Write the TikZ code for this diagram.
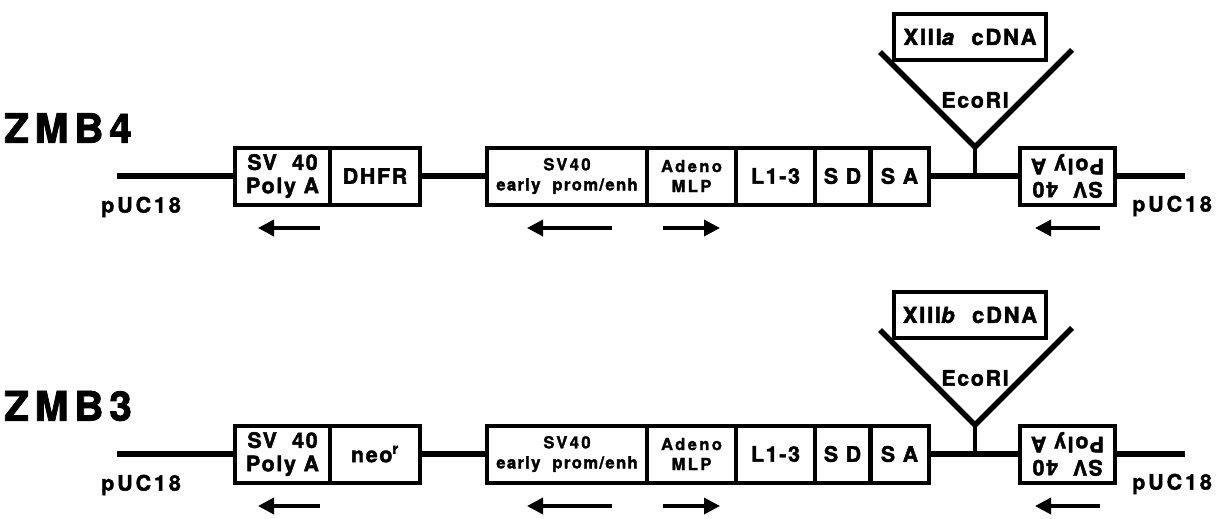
\documentclass[tikz,border=0pt]{standalone}
\usepackage{fontspec}
\setmainfont{TeX Gyre Heros}
\newfontfamily\hvA{TeX Gyre Heros}[LetterSpace=8,BoldFeatures={FakeBold=2},BoldItalicFeatures={FakeBold=2}]
\newfontfamily\hvB{TeX Gyre Heros}[LetterSpace=14,BoldFeatures={FakeBold=2}]
\newfontfamily\hvC{TeX Gyre Heros}[LetterSpace=14,BoldFeatures={FakeBold=1.5}]
\usetikzlibrary{arrows.meta}
\begin{document}
\begin{tikzpicture}[x=0.75pt,y=-0.75pt,
  box/.style={draw,line width=3pt,inner sep=0pt,outer sep=0pt,minimum height=42.75pt,align=center,font=\hvA\bfseries\fontsize{16}{17.5}\selectfont},
  sbox/.style={box,font=\hvC\bfseries\fontsize{12.5}{15}\selectfont},
  cbox/.style={box,minimum width=114pt,minimum height=34.5pt,font=\hvA\bfseries\fontsize{16.5}{18}\selectfont},
  dna/.style={line width=3.8pt},
  tri/.style={line width=4.2pt,line join=miter},
  stem/.style={line width=2.6pt},
  arr/.style={line width=2.6pt,-{Triangle[length=12pt,width=12pt]}},
  lbl/.style={font=\hvB\bfseries\fontsize{16}{18}\selectfont,inner sep=0pt},
  eco/.style={font=\hvA\bfseries\fontsize{16}{18}\selectfont,inner sep=0pt},
  ttl/.style={font=\hvB\bfseries\fontsize{30.5}{32}\selectfont,inner sep=0pt},
]
\useasboundingbox (0,0) rectangle (1223,518);
\foreach \r/\dy/\name/\gene/\cd in {1/0/ZMB4/DHFR/a,2/278/ZMB3/{neo\textsuperscript{r}}/b}{
\begin{scope}[yshift={-0.75pt*\dy}]
  \node[ttl] (t\r) at (68,128) {\name};
  \coordinate (l\r) at (117,176);
  \node[box,minimum width=71.25pt] (pa\r) at (282.5,176) {SV\ \ 40\\Poly\ A};
  \node[box,minimum width=67.5pt] (g\r) at (375,176) {\gene};
  \node[sbox,minimum width=120pt] (se\r) at (567,176) {SV40\\{\hvA early\ \ prom/enh}};
  \node[sbox,minimum width=66.75pt] (ml\r) at (691.5,176) {Adeno\\MLP};
  \node[box,minimum width=59.25pt] (lt\r) at (775.5,176) {L1-3};
  \node[box,minimum width=41.25pt] (sd\r) at (842.5,176) {S D};
  \node[box,minimum width=43.5pt] (sa\r) at (899.5,176) {S A};
  \coordinate (j\r) at (975,176);
  \node[box,minimum width=71.25pt,rotate=180] (pr\r) at (1067.5,176) {SV\ \ 40\\Poly\ A};
  \coordinate (r\r) at (1185,176);
  \draw[dna] (l\r) -- (pa\r.west);
  \draw[dna] (g\r.east) -- (se\r.west);
  \draw[dna] (sa\r.east) -- (j\r) -- (pr\r.east);
  \draw[dna] (pr\r.west) -- (r\r);
  \coordinate (ap\r) at (975,147);
  \coordinate (tl\r) at (880,52);
  \coordinate (tr\r) at (1072,50);
  \draw[tri] (tl\r) -- (ap\r) -- (tr\r);
  \draw[stem] (ap\r) -- (j\r);
  \node[cbox] (cd\r) at (970,37) {XIII\textit{\cd}\ \ cDNA};
  \node[eco] (e\r) at (975,100) {EcoRI};
  \node[lbl] (ul\r) at (141,207) {pUC18};
  \node[lbl] (ur\r) at (1172,206) {pUC18};
  \coordinate (a\r s) at (320,228); \coordinate (a\r e) at (258,228);
  \coordinate (b\r s) at (612,228); \coordinate (b\r e) at (527,228);
  \coordinate (c\r s) at (663,228); \coordinate (c\r e) at (720,228);
  \coordinate (d\r s) at (1100,228); \coordinate (d\r e) at (1035,228);
  \draw[arr] (a\r s) -- (a\r e);
  \draw[arr] (b\r s) -- (b\r e);
  \draw[arr] (c\r s) -- (c\r e);
  \draw[arr] (d\r s) -- (d\r e);
\end{scope}}
\end{tikzpicture}
\end{document}
